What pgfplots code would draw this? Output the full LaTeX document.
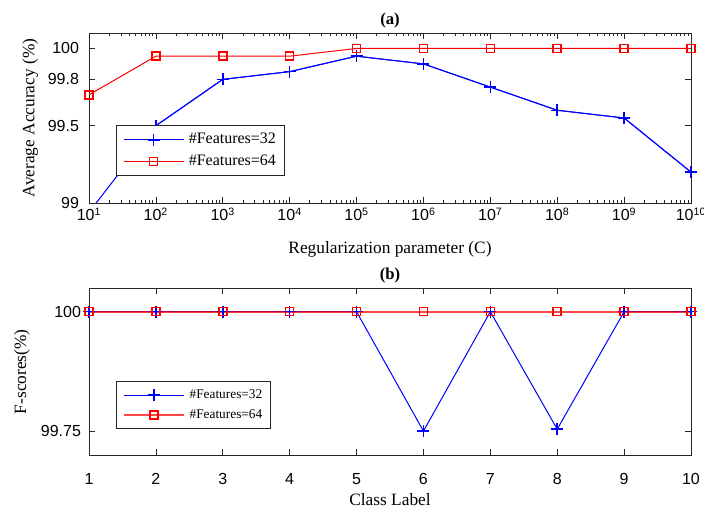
\documentclass[border=0pt]{standalone}
\usepackage{fontspec}
\setmainfont{Liberation Serif}
\setsansfont{Liberation Sans}
\usepackage{pgfplots}
\pgfplotsset{compat=1.18}

\pgfplotstableread{
C acc32 acc64
1e1 98.94 99.70
1e2 99.50 99.95
1e3 99.80 99.95
1e4 99.85 99.95
1e5 99.95 100
1e6 99.90 100
1e7 99.75 100
1e8 99.60 100
1e9 99.55 100
1e10 99.20 100
}\accdata

\pgfplotstableread{
cls f32 f64
1 100 100
2 100 100
3 100 100
4 100 100
5 100 100
6 99.75 100
7 100 100
8 99.754 100
9 100 100
10 100 100
}\fdata

\pgfplotsset{
  myaxis/.style={
    scale only axis, width=451.5pt,
    axis line style={black!85, line width=0.5pt},
    every tick/.style={black!85, line width=0.5pt},
    major tick length=4.5pt, minor tick length=2.5pt,
    tick align=inside,
    xtick pos=both, ytick pos=both,
    ticklabel style={font=\sffamily\fontsize{12}{14}\selectfont},
    label style={font=\fontsize{13}{15}\selectfont},
    title style={font=\bfseries\fontsize{12.5}{15}\selectfont, at={(axis description cs:0.5,1)}, anchor=south, inner sep=0pt, yshift=-2.5pt},
    legend cell align=left,
    legend image code/.code={\draw[mark repeat=2,mark phase=2] plot coordinates {(0pt,0pt) (22.5pt,0pt) (45pt,0pt)};},
  },
  s32/.style={color=blue, line width=0.75pt, mark=+, mark size=4.5pt, mark options={line width=1.1pt, solid}},
  s64/.style={color=red, line width=0.75pt, mark=square, mark size=3pt, mark options={line width=1.1pt, solid}},
}

\begin{document}
\begin{tikzpicture}[x=1pt,y=1pt]
\useasboundingbox (0,0) rectangle (528,383.25);

% (a)
\begin{axis}[myaxis,
  at={(66.75pt,231pt)}, anchor=south west,
  height=127.5pt,
  xmode=log, log basis x=10,
  xmin=10, xmax=1e10, ymin=99, ymax=100.1,
  xtick={1e1,1e2,1e3,1e4,1e5,1e6,1e7,1e8,1e9,1e10},
  xticklabels={10\textsuperscript{1},10\textsuperscript{2},10\textsuperscript{3},10\textsuperscript{4},10\textsuperscript{5},10\textsuperscript{6},10\textsuperscript{7},10\textsuperscript{8},10\textsuperscript{9},10\textsuperscript{10}},
  minor xtick={2e1,3e1,4e1,5e1,6e1,7e1,8e1,9e1,
               2e2,3e2,4e2,5e2,6e2,7e2,8e2,9e2,
               2e3,3e3,4e3,5e3,6e3,7e3,8e3,9e3,
               2e4,3e4,4e4,5e4,6e4,7e4,8e4,9e4,
               2e5,3e5,4e5,5e5,6e5,7e5,8e5,9e5,
               2e6,3e6,4e6,5e6,6e6,7e6,8e6,9e6,
               2e7,3e7,4e7,5e7,6e7,7e7,8e7,9e7,
               2e8,3e8,4e8,5e8,6e8,7e8,8e8,9e8,
               2e9,3e9,4e9,5e9,6e9,7e9,8e9,9e9},
  ytick={99,99.5,99.8,100},
  yticklabels={99,99.5,99.8,100},
  yticklabel style={xshift=-4pt},
  title={(a)},
  xlabel={Regularization parameter (C)},
  ylabel={Average Accuracy (\%)},
  xlabel style={at={(axis description cs:0.5,0)}, anchor=north, inner sep=0pt, yshift=-29pt},
  ylabel style={at={(axis description cs:-0.084,0.5)}, anchor=south, inner sep=0pt, rotate=0},
]
% full blue line, including the point below the axis at C=10
\addplot[s32, mark=none] table[x=C, y=acc32] {\accdata};
% blue marks (points inside the axis range)
\addplot[s32] coordinates {(1e2,99.50) (1e3,99.80) (1e4,99.85) (1e5,99.95) (1e6,99.90) (1e7,99.75) (1e8,99.60) (1e9,99.55) (1e10,99.20)};
\addplot[s64] table[x=C, y=acc64] {\accdata};
\end{axis}

% legend of (a), in an invisible axis of the same size and place
\begin{axis}[myaxis,
  at={(66.75pt,231pt)}, anchor=south west,
  height=127.5pt,
  hide axis,
  xmin=0, xmax=1, ymin=0, ymax=1,
  legend style={at={(0.045,0.159)}, anchor=south west, draw=black!85, line width=0.5pt,
    font=\fontsize{12}{14}\selectfont,
    inner xsep=5pt, inner ysep=3.75pt, row sep=2pt,
    nodes={inner sep=1pt, text height=9pt, text depth=3pt},
    /tikz/column sep=2.5pt},
]
\addlegendimage{s32}
\addlegendentry{\#Features=32}
\addlegendimage{s64}
\addlegendentry{\#Features=64}
\end{axis}

% (b)
\begin{axis}[myaxis,
  at={(66.75pt,42pt)}, anchor=south west,
  height=125pt,
  xmin=1, xmax=10, ymin=99.7, ymax=100.049,
  xtick={1,2,3,4,5,6,7,8,9,10},
  xticklabels={1,2,3,4,5,6,7,8,9,10},
  ytick={99.75,100},
  yticklabels={99.75,100},
  minor tick num=0,
  xticklabel style={yshift=-10pt},
  yticklabel style={xshift=-2.5pt},
  title={(b)},
  xlabel={Class Label},
  ylabel={F-scores(\%)},
  xlabel style={at={(axis description cs:0.5,0)}, anchor=north, inner sep=0pt, yshift=-29pt},
  ylabel style={at={(axis description cs:-0.098,0.5)}, anchor=south, inner sep=0pt, rotate=0},
  legend style={at={(0.045,0.156)}, anchor=south west, draw=black!85, line width=0.5pt,
    font=\fontsize{10}{12}\selectfont,
    inner xsep=5pt, inner ysep=3.9pt, row sep=2.5pt,
    nodes={inner sep=1pt, text height=8pt, text depth=2.5pt},
    /tikz/column sep=2.5pt},
]
\addplot[s32] table[x=cls, y=f32] {\fdata};
\addlegendentry{\#Features=32}
\addplot[s64, line width=1.4pt, draw opacity=0.72, mark options={line width=1.1pt, solid, draw opacity=1}] table[x=cls, y=f64] {\fdata};
\addlegendentry{\#Features=64}
\end{axis}
\end{tikzpicture}
\end{document}
